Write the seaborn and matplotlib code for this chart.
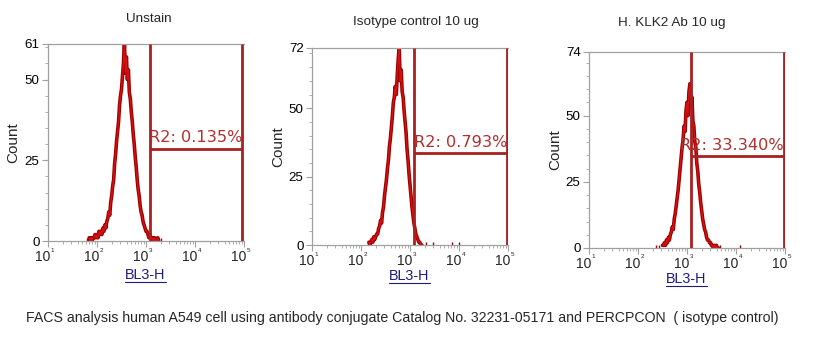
import numpy as np
import matplotlib
matplotlib.use("Agg")
import matplotlib.pyplot as plt
from matplotlib.lines import Line2D
from matplotlib.ticker import FixedLocator, NullFormatter
import seaborn as sns

# ---------------- data ----------------
titles = ["Unstain", "Isotype control 10 ug", "H. KLK2 Ab 10 ug"]
y_max = [61, 72, 74]
gate_labels = ["R2: 0.135%", "R2: 0.793%", "R2: 33.340%"]
gate_lo_log = [3.08, 3.08, 3.08]
gate_hi_log = [4.96, 4.98, 4.98]
gate_height = [28.5, 33.6, 34.7]

# histogram bins: log10(BL3-H) start, step 0.02 decade
p1_start = 1.84
p1_counts = [1, 0, 1, 0, 1, 1, 2, 1, 2, 1, 3, 2, 3, 2, 4, 3, 5, 4, 6, 7,
             9, 8, 12, 14, 17, 19, 24, 27, 31, 34, 37, 42, 45, 47, 51, 55, 61, 52, 57, 50,
             53, 46, 44, 40, 37, 33, 30, 26, 23, 19, 16, 14, 11, 9, 8, 6, 5, 4, 3, 3,
             2, 1, 2, 1, 0, 1, 0, 1, 0, 0, 1, 0]
p2_start = 2.16
p2_counts = [1, 0, 1, 2, 1, 3, 2, 3, 4, 4, 6, 7, 9, 8, 12, 14, 18, 21, 24, 28,
             31, 36, 39, 43, 47, 52, 54, 58, 55, 62, 68, 72, 60, 64, 56, 54, 49, 45, 41, 35,
             31, 26, 22, 18, 14, 11, 8, 6, 4, 3, 2, 1, 1, 0, 0]
p3_start = 2.50
p3_counts = [1, 1, 2, 1, 3, 2, 4, 3, 5, 6, 8, 7, 11, 13, 16, 19, 22, 26, 30, 34,
             38, 41, 46, 44, 52, 55, 50, 59, 62, 53, 57, 48, 46, 40, 38, 32, 29, 24, 21, 17,
             14, 11, 9, 7, 6, 4, 3, 3, 2, 2, 1, 1, 0, 1, 0, 1, 0, 0]
# isolated single events (log10 positions, count 1)
p1_sparse = [1.80, 3.30]
p2_sparse = [3.33, 3.47, 3.86, 4.00]
p3_sparse = [2.36, 2.42, 3.68, 4.08]

x_tick_exps = [1, 2, 3, 4, 5]
x_label = "BL3-H"
y_label = "Count"
caption = ("FACS analysis human A549 cell using antibody conjugate Catalog No. "
           "32231-05171 and PERCPCON  ( isotype control)")

starts = [p1_start, p2_start, p3_start]
counts = [p1_counts, p2_counts, p3_counts]
sparse = [p1_sparse, p2_sparse, p3_sparse]

# ---------------- style / layout ----------------
sns.set_theme(style="white")
plt.rcParams["font.family"] = ["Liberation Sans", "DejaVu Sans"]

W, H = 816, 351
PT = 0.72  # points per pixel at 100 dpi
fig = plt.figure(figsize=(W / 100, H / 100), dpi=100)
fig.patch.set_facecolor("white")

# axes rectangles in pixels: left, top, right, bottom
rects = [(48, 44, 244, 241), (312, 48, 508, 245), (589, 52, 785, 248)]
title_pos = [(149, 19), (416, 22), (672, 23)]
ylab_pos = [(13, 143), (278, 147), (555, 150)]
xlab_pos = [(145, 275), (409, 276), (686, 279)]

hist_dark = "#9c0000"
hist_light = "#d41010"
gate_color = "#a82020"
text_color = "#b03030"
spine_color = "#a0a0a0"


def fx(px):
    return px / W


def fy(py):
    return 1 - py / H


for i in range(3):
    l, t, r, b = rects[i]
    ax = fig.add_axes([fx(l), fy(b), (r - l) / W, (b - t) / H])
    ax.set_facecolor("white")

    logs = starts[i] + 0.02 * np.arange(len(counts[i]))
    xs = 10 ** logs
    sns.lineplot(x=xs, y=counts[i], ax=ax, color=hist_dark, linewidth=2.6,
                 estimator=None, sort=False)
    sns.lineplot(x=xs, y=counts[i], ax=ax, color=hist_light, linewidth=1.0,
                 estimator=None, sort=False)
    for s in sparse[i]:
        ax.vlines(10 ** s, 0, 1, color=hist_dark, linewidth=1.0)

    # gate
    glo, ghi = 10 ** gate_lo_log[i], 10 ** gate_hi_log[i]
    ax.vlines([glo, ghi], 0, y_max[i], color=gate_color, linewidth=2.0, zorder=5)
    ax.hlines(gate_height[i], glo, ghi, color=gate_color, linewidth=2.0, zorder=5)
    ax.text(ghi, gate_height[i] + 1.2, gate_labels[i], ha="right", va="bottom",
            fontsize=11.6, color=text_color, family="DejaVu Sans", zorder=6)

    ax.set_xscale("log")
    ax.set_xlim(10 ** x_tick_exps[0], 10 ** x_tick_exps[-1])
    ax.set_ylim(0, y_max[i])
    ax.set_xticks([10 ** e for e in x_tick_exps])
    ax.set_xticklabels([])
    ax.xaxis.set_minor_locator(FixedLocator(
        [m * 10 ** e for e in x_tick_exps[:-1] for m in range(2, 10)]))
    ax.xaxis.set_minor_formatter(NullFormatter())
    ax.set_yticks([0, 25, 50, y_max[i]])
    ax.set_yticklabels(["0", "25", "50", str(y_max[i])])
    ax.yaxis.set_minor_locator(FixedLocator(list(range(5, y_max[i], 5))))
    ax.tick_params(axis="both", which="major", direction="out", length=4, width=0.8,
                   color=spine_color, labelsize=9.6, pad=2, labelcolor="black",
                   left=True, bottom=True)
    ax.tick_params(axis="both", which="minor", direction="out", length=2, width=0.6,
                   color=spine_color, left=True, bottom=True)
    for side in ["left", "bottom", "top"]:
        ax.spines[side].set_color(spine_color)
        ax.spines[side].set_linewidth(0.9)
        ax.spines[side].set_visible(True)
    ax.spines["right"].set_visible(False)
    ax.set_xlabel("")
    ax.set_ylabel("")
    ax.grid(False)

    # x tick labels: "10" with a tiny exponent
    for e in x_tick_exps:
        ax.annotate("10", xy=(10 ** e, 0), xycoords=("data", "axes fraction"),
                    xytext=(2 * PT, -16 * PT), textcoords="offset points",
                    ha="right", va="center", fontsize=10, annotation_clip=False)
        ax.annotate(str(e), xy=(10 ** e, 0), xycoords=("data", "axes fraction"),
                    xytext=(2.5 * PT, -9 * PT), textcoords="offset points",
                    ha="left", va="center", fontsize=4.5, annotation_clip=False)

    tx, ty = title_pos[i]
    fig.text(fx(tx), fy(ty), titles[i], ha="center", va="center", fontsize=9.7)
    yx, yy = ylab_pos[i]
    fig.text(fx(yx), fy(yy), y_label, ha="center", va="center", fontsize=11,
             rotation=90)
    xx, xy = xlab_pos[i]
    fig.text(fx(xx), fy(xy), x_label, ha="center", va="center", fontsize=10.4,
             color="#1c1c80")
    fig.add_artist(Line2D([fx(xx - 20.5), fx(xx + 20.5)], [fy(xy + 7), fy(xy + 7)],
                          color="#1c1c80", linewidth=0.8))

fig.text(fx(402), fy(318), caption, ha="center", va="center", fontsize=10.2)

fig.savefig("out.png", dpi=100, facecolor="white")
